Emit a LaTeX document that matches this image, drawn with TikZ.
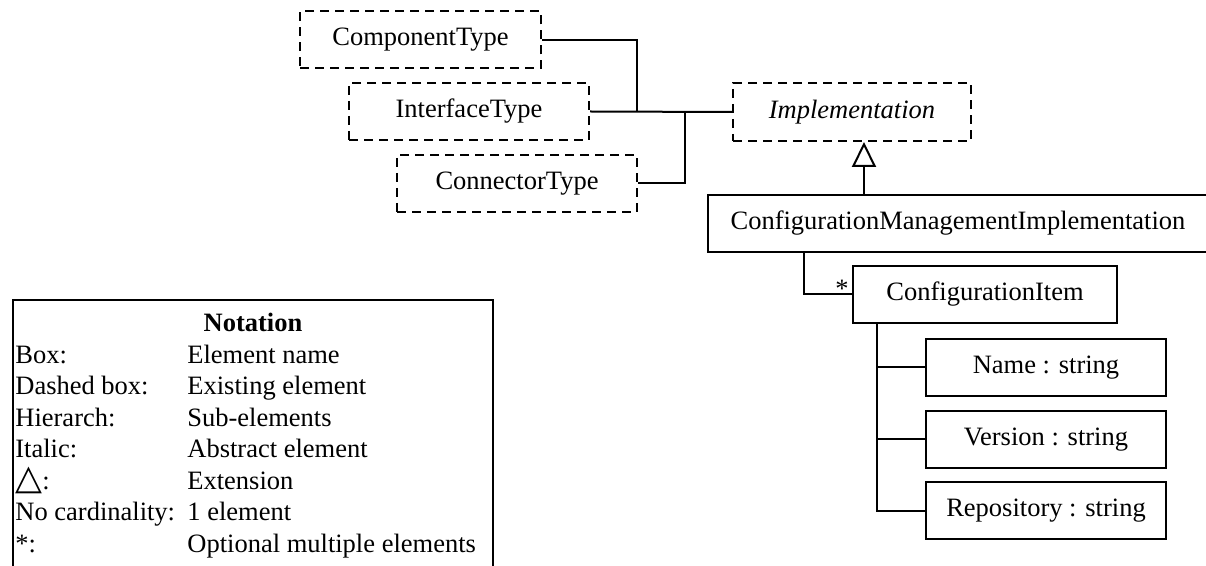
\documentclass[tikz,border=0pt]{standalone}
\usepackage{fontspec}
\setmainfont{Liberation Serif}
\newfontfamily\symfont{DejaVu Sans}
\usetikzlibrary{arrows.meta,calc}
\begin{document}
\begin{tikzpicture}[x=0.5pt,y=-0.5pt,
  every node/.style={font=\fontsize{13.25}{15}\selectfont},
  elem/.style={draw, line width=1pt, inner sep=0pt, minimum height=28.5pt},
  existing/.style={elem, dash pattern=on 4.5pt off 3pt},
  link/.style={line width=1pt},
  notekey/.style={anchor=base west, inner sep=0pt},
  extension/.style={-{Triangle[open, length=12.5pt, width=12pt]}}
]
\useasboundingbox (0,0) rectangle (1206,566);
\clip (0,0) rectangle (1206,566);

% existing elements
\node[existing, minimum width=120.5pt] (comp)  at (420.5,40)  {ComponentType};
\node[existing, minimum width=120pt]   (iface) at (469,111.5) {InterfaceType};
\node[existing, minimum width=120pt]   (conn)  at (517,183.5) {ConnectorType};
\node[existing, minimum width=119pt, minimum height=29pt] (impl) at (852,112) {\itshape Implementation};

% new elements
\node[elem, minimum width=250pt] (cmi)  at (958,223.5) {ConfigurationManagementImplementation};
\node[elem, minimum width=132pt] (ci)   at (985,294.5) {ConfigurationItem};
\node[elem, minimum width=120pt] (name) at (1046,367.5) {Name : string};
\node[elem, minimum width=120pt] (ver)  at (1046,439.5) {Version : string};
\node[elem, minimum width=120pt] (repo) at (1046,511)   {Repository : string};

% links to Implementation
\coordinate (jA) at (637,112);
\coordinate (jB) at (685,112);
\draw[link] (comp.east) -| (jA);
\draw[link] (iface.east) -- (impl.west);
\draw[link] (conn.east) -| (jB);

% extension
\coordinate (extfoot) at (864,195);
\draw[link, extension] (extfoot) -- (extfoot |- impl.south);

% configuration items
\coordinate (cmifoot) at (804,252);
\draw[link] (cmifoot) |- (ci.west);
\node[anchor=base east, inner sep=0pt] (mult) at ($(ci.west)+(-3,3)$) {*};

% attributes
\coordinate (cifoot) at (877,323);
\draw[link] (cifoot) |- (repo.west);
\draw[link] (cifoot |- name.west) -- (name.west);
\draw[link] (cifoot |- ver.west) -- (ver.west);

% notation legend
\draw[line width=0.8pt] (13,600) -- (13,300) -- (493,300) -- (493,600);
\node[anchor=base, inner sep=0pt] (nhead) at (253,332) {\bfseries Notation};
\node[notekey] (k1) at (15,363.5) {Box:};
\node[notekey] (v1) at (187,363.5) {Element name};
\node[notekey] (k2) at (15,395) {Dashed box:};
\node[notekey] (v2) at (187,395) {Existing element};
\node[notekey] (k3) at (15,426.5) {Hierarch:};
\node[notekey] (v3) at (187,426.5) {Sub-elements};
\node[notekey] (k4) at (15,458) {Italic:};
\node[notekey] (v4) at (187,458) {Abstract element};
\node[notekey] (k5) at (15,489.5) {{\symfont\fontsize{17.5}{17.5}\selectfont △}:};
\node[notekey] (v5) at (187,489.5) {Extension};
\node[notekey] (k6) at (15,521) {No cardinality:};
\node[notekey] (v6) at (187,521) {1 element};
\node[notekey] (k7) at (15,552.5) {*:};
\node[notekey] (v7) at (187,552.5) {Optional multiple elements};
\end{tikzpicture}
\end{document}
